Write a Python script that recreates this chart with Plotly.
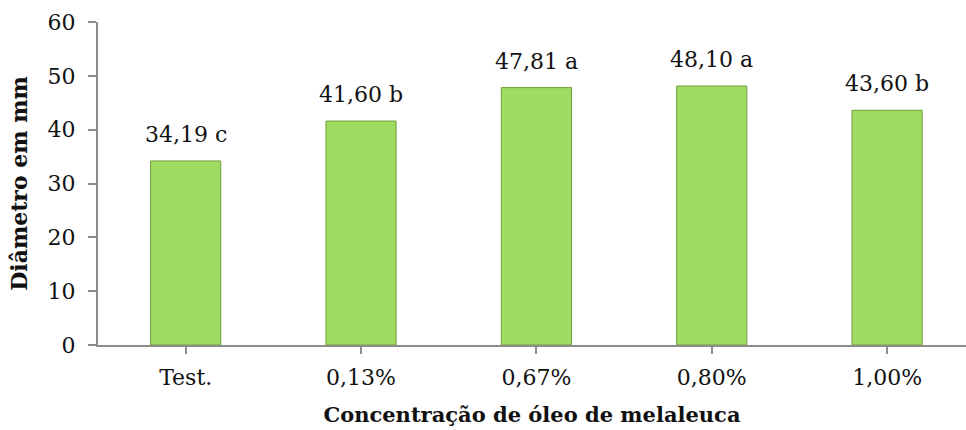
import plotly.graph_objects as go

categories = ["Test.", "0,13%", "0,67%", "0,80%", "1,00%"]
values = [34.19, 41.60, 47.81, 48.10, 43.60]
letters = ["c", "b", "a", "a", "b"]
y_ticks = [0, 10, 20, 30, 40, 50, 60]

FONT = "DejaVu Serif"
TXT = "#111111"
AX = "#8c8c8c"

fig = go.Figure()
fig.add_trace(go.Bar(
    x=list(range(len(categories))), y=values, width=0.40,
    marker=dict(color="#a0dc62", line=dict(color="#6e9e3a", width=1)),
    hoverinfo="skip",
))
for i, (v, l) in enumerate(zip(values, letters)):
    fig.add_annotation(x=i, y=v, text=f"{v:.2f}".replace(".", ",") + " " + l,
                       showarrow=False, yanchor="bottom", yshift=12,
                       font=dict(family=FONT, size=22, color=TXT))

fig.update_layout(
    width=966, height=430,
    margin=dict(l=98, r=0, t=22, b=85),
    paper_bgcolor="white", plot_bgcolor="white",
    showlegend=False,
    font=dict(family=FONT, color=TXT),
)
fig.update_xaxes(
    range=[-0.5, 4.45],
    tickmode="array", tickvals=list(range(len(categories))), ticktext=categories,
    tickson="boundaries", ticks="outside", ticklen=7, tickwidth=2, tickcolor=AX,
    ticklabelstandoff=5,
    showline=True, linecolor=AX, linewidth=2, showgrid=False, zeroline=False,
    tickfont=dict(family=FONT, size=22, color=TXT),
    title=dict(text="<b>Concentração de óleo de melaleuca</b>",
               font=dict(family=FONT, size=21, color=TXT), standoff=18),
)
fig.update_yaxes(
    range=[0, 60], tickvals=y_ticks,
    ticks="outside", ticklen=8, tickwidth=2, tickcolor=AX,
    ticklabelstandoff=8,
    showline=True, linecolor=AX, linewidth=2, showgrid=False, zeroline=False,
    tickfont=dict(family=FONT, size=22, color=TXT),
    title=dict(text="<b>Diâmetro em mm</b>",
               font=dict(family=FONT, size=22, color=TXT), standoff=14),
)

fig.write_html("out.html")
